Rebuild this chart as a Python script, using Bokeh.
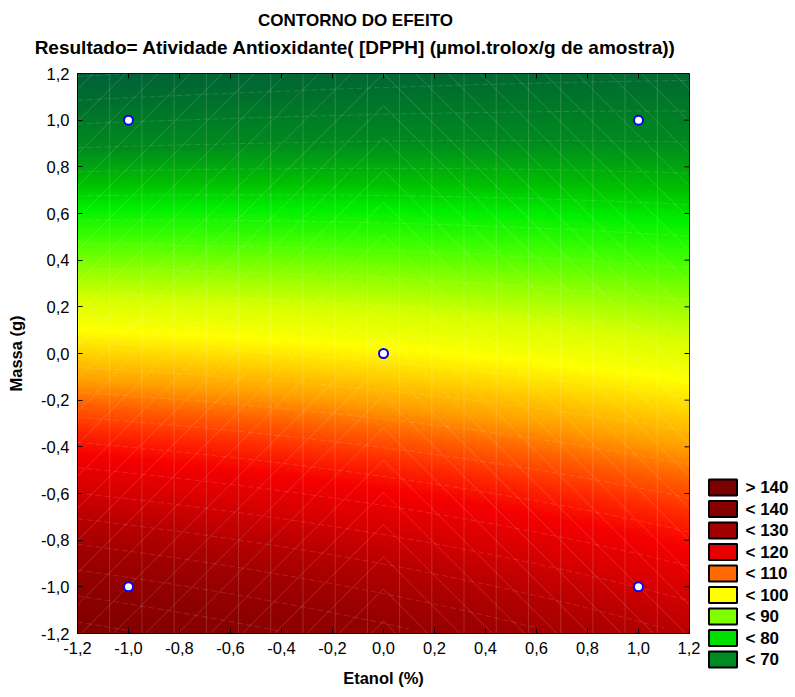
import numpy as np
from bokeh.plotting import figure
from bokeh.models import (LinearColorMapper, FixedTicker, CustomJSTickFormatter,
                          LinearAxis, Range1d)
from bokeh.layouts import row, column
from bokeh.embed import file_html
from bokeh.resources import INLINE
from bokeh.core.properties import value

# ---------------- data ----------------
title_text = "CONTORNO DO EFEITO"
subtitle_text = "Resultado= Atividade Antioxidante( [DPPH] (µmol.trolox/g de amostra))"
x_label = "Etanol (%)"
y_label = "Massa (g)"

# experimental design points (coded levels)
design_etanol = [-1.0, 1.0, -1.0, 1.0, 0.0]
design_massa = [-1.0, -1.0, 1.0, 1.0, 0.0]

grid_etanol = [-1.2, 0.0, 1.2]
grid_massa = [1.2, 0.6, 0.0, -0.6, -1.2]
resp_etanol_m12 = [58, 81, 103, 126, 148]
resp_etanol_0 = [60, 79, 102, 121, 139]
resp_etanol_p12 = [62, 77, 98, 114, 129]

tick_values = [-1.2, -1.0, -0.8, -0.6, -0.4, -0.2, 0.0, 0.2, 0.4, 0.6, 0.8, 1.0, 1.2]

legend_labels = ["> 140", "< 140", "< 130", "< 120", "< 110", "< 100", "< 90", "< 80", "< 70"]
legend_colors = ["#7b0000", "#860000", "#a30000", "#e60000", "#ff6a00",
                 "#ffff00", "#80ff00", "#00e000", "#008a22"]

# colour scale anchors (level -> colour)
scale_levels = [55, 62, 70, 76, 80, 85, 90, 95, 100, 104, 108, 112, 116, 120, 125, 130, 135, 140, 145, 152]
scale_colors = ["#005a3c", "#006e2e", "#008a1e", "#00c000", "#00f000", "#40ff00", "#90ff00",
                "#d8ff00", "#ffff00", "#ffd000", "#ffa000", "#ff6000", "#ff2a00", "#f50000",
                "#d80000", "#b80000", "#a00000", "#900000", "#850000", "#7a0000"]

FONT = "Liberation Sans"

# ---------------- surface (quadratic least-squares fit) ----------------
gx, gy = np.meshgrid(np.array(grid_etanol), np.array(grid_massa))
gz = np.column_stack([resp_etanol_m12, resp_etanol_0, resp_etanol_p12])
fx, fy, fz = gx.ravel(), gy.ravel(), gz.ravel().astype(float)
A = np.column_stack([np.ones_like(fx), fx, fy, fx * fy, fx ** 2, fy ** 2])
coef, *_ = np.linalg.lstsq(A, fz, rcond=None)

def surface(X, Y):
    return (coef[0] + coef[1] * X + coef[2] * Y + coef[3] * X * Y
            + coef[4] * X ** 2 + coef[5] * Y ** 2)

n = 400
xs = np.linspace(-1.2, 1.2, n)
ys = np.linspace(-1.2, 1.2, n)
XX, YY = np.meshgrid(xs, ys)
ZZ = surface(XX, YY)

def hex2rgb(h):
    return [int(h[i:i + 2], 16) for i in (1, 3, 5)]

low, high = min(scale_levels), max(scale_levels)
pv = np.linspace(low, high, 256)
rgb = np.array([hex2rgb(c) for c in scale_colors], dtype=float)
palette = []
for v in pv:
    r = np.interp(v, scale_levels, rgb[:, 0])
    g = np.interp(v, scale_levels, rgb[:, 1])
    b = np.interp(v, scale_levels, rgb[:, 2])
    palette.append("#%02x%02x%02x" % (int(round(r)), int(round(g)), int(round(b))))
mapper = LinearColorMapper(palette=palette, low=low, high=high)

# ---------------- title strip ----------------
t = figure(width=795, height=60, x_range=Range1d(0, 795), y_range=Range1d(60, 0),
           output_backend="svg", toolbar_location=None, min_border=0,
           x_axis_location=None, y_axis_location=None)
t.grid.visible = False
t.outline_line_color = None
t.text(x=[355, 355], y=[20, 47], text=[title_text, subtitle_text],
       text_font=value(FONT), text_font_size=["17px", "19px"], text_font_style="bold",
       text_align="center", text_baseline="middle", text_color="black")

# ---------------- main figure ----------------
p = figure(width=700, height=637, x_range=Range1d(-1.2, 1.2), y_range=Range1d(-1.2, 1.2),
           output_backend="svg", toolbar_location=None,
           min_border_left=77, min_border_right=11, min_border_top=13, min_border_bottom=64,
           x_axis_location=None, y_axis_location=None)
p.grid.visible = False
p.outline_line_color = "black"
p.outline_line_width = 1
p.background_fill_color = "white"

p.image(image=[ZZ], x=-1.2, y=-1.2, dw=2.4, dh=2.4, color_mapper=mapper)

# faint mesh lines (grid columns, diagonals and level lines of the surface)
ncol = 19
w = 2.4 / ncol
mesh_xs, mesh_ys = [], []
for k in range(1, ncol):
    xv = -1.2 + k * w
    mesh_xs.append([xv, xv])
    mesh_ys.append([-1.2, 1.2])
m = (612 / 2.4) / (560 / 2.4)
for k in range(-40, 40):
    c = k * w
    k0 = 1.2 - m * c
    xa = max(-1.2, (-1.2 - k0) / m)
    xb = min(0.0, (1.2 - k0) / m)
    if xb > xa:
        mesh_xs.append([xa, xb]); mesh_ys.append([m * xa + k0, m * xb + k0])
    k1 = 1.2 + m * (-c)
    xa2 = max(0.0, (k1 - 1.2) / m)
    xb2 = min(1.2, (k1 + 1.2) / m)
    if xb2 > xa2:
        mesh_xs.append([xa2, xb2]); mesh_ys.append([-m * xa2 + k1, -m * xb2 + k1])
p.multi_line(mesh_xs, mesh_ys, line_color="white", line_alpha=0.2, line_width=0.8)

lvl_xs, lvl_ys = [], []
col_x = np.linspace(-1.2, 1.2, 25)
for L in np.arange(50, 160, 4.0):
    px, py = [], []
    for cx in col_x:
        zc = surface(cx, ys)
        if zc.min() <= L <= zc.max():
            px.append(cx)
            py.append(float(np.interp(L, zc[::-1], ys[::-1])))
    if len(px) > 1:
        lvl_xs.append(px); lvl_ys.append(py)
p.multi_line(lvl_xs, lvl_ys, line_color="white", line_alpha=0.16, line_width=0.8,
             line_dash="6 3")

# inward ticks on top and right edges
tick_len_y = 5 / (560 / 2.4)
tick_len_x = 5 / (612 / 2.4)
p.segment(x0=tick_values, y0=[1.2] * len(tick_values), x1=tick_values,
          y1=[1.2 - tick_len_y] * len(tick_values), line_color="black", line_width=1)
p.segment(x0=[1.2] * len(tick_values), y0=tick_values, x1=[1.2 - tick_len_x] * len(tick_values),
          y1=tick_values, line_color="black", line_width=1)

p.scatter(design_etanol, design_massa, size=9, fill_color="white",
          line_color="#0000ff", line_width=2)

fmt = CustomJSTickFormatter(code="return tick.toFixed(1).replace('-0.0','0.0').replace('.', ',');")

def make_axis(label):
    ax = LinearAxis(ticker=FixedTicker(ticks=tick_values), formatter=fmt)
    ax.major_tick_in = 5
    ax.major_tick_out = 0
    ax.minor_tick_line_color = None
    ax.axis_line_color = "black"
    ax.major_tick_line_color = "black"
    ax.major_label_text_font = FONT
    ax.major_label_text_color = "black"
    ax.major_label_text_font_size = "16.5px"
    ax.major_label_standoff = 8
    ax.axis_label = label
    ax.axis_label_text_font = FONT
    ax.axis_label_text_font_size = "16.5px"
    ax.axis_label_text_font_style = "bold"
    ax.axis_label_text_color = "black"
    return ax

xb_ax = make_axis(x_label)
xb_ax.axis_label_standoff = 12
p.add_layout(xb_ax, "below")
yl_ax = make_axis(y_label)
yl_ax.axis_label_standoff = 13
p.add_layout(yl_ax, "left")

# ---------------- legend figure (nested, so its frame is not aligned to the main one) ----------------
q = figure(width=95, height=637, x_range=Range1d(0, 95), y_range=Range1d(697, 60),
           output_backend="svg", toolbar_location=None, min_border=0,
           x_axis_location=None, y_axis_location=None)
q.grid.visible = False
q.outline_line_color = None
idx = np.arange(len(legend_labels))
ly = 487 + idx * 21.5
q.rect(x=[22.5] * len(idx), y=ly, width=28, height=16, fill_color=legend_colors,
       line_color="black", line_width=2)
q.text(x=[45] * len(idx), y=ly, text=legend_labels, text_font=value(FONT),
       text_font_size="17px", text_font_style="bold", text_baseline="middle",
       text_align="left", text_color="black")

layout = column(t, row(p, column(q)))
open("out.html", "w").write(file_html(layout, INLINE))
